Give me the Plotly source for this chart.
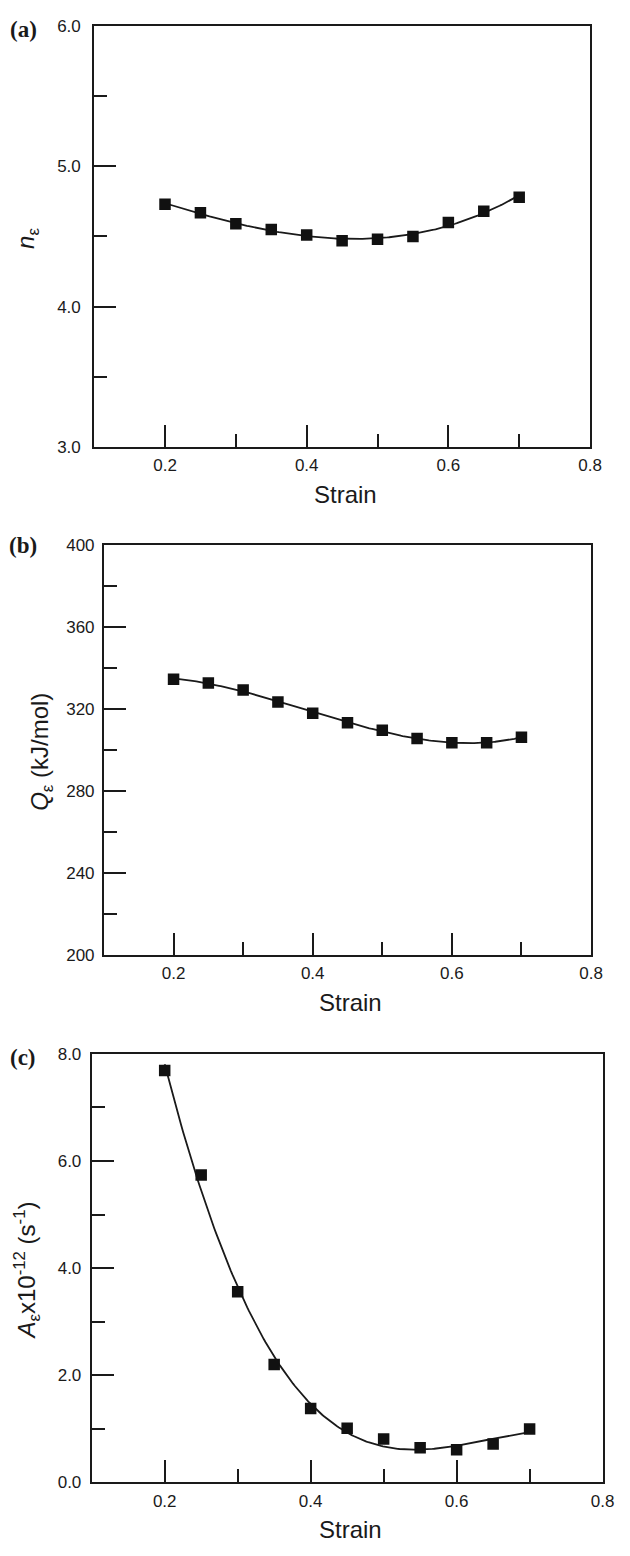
import numpy as np
import plotly.graph_objects as go

# ---------------- data ----------------
strain = [0.20, 0.25, 0.30, 0.35, 0.40, 0.45, 0.50, 0.55, 0.60, 0.65, 0.70]
n_eps = [4.73, 4.67, 4.59, 4.55, 4.51, 4.47, 4.48, 4.50, 4.60, 4.68, 4.78]
q_eps = [334.4, 332.5, 329.1, 323.3, 317.7, 313.1, 309.5, 305.4, 303.4, 303.4, 306.0]
a_eps = [7.69, 5.74, 3.56, 2.20, 1.38, 1.01, 0.81, 0.65, 0.61, 0.72, 1.00]

x_ticks = [0.2, 0.4, 0.6, 0.8]
x_ticktext = ["0.2", "0.4", "0.6", "0.8"]
x_minor = [0.3, 0.5, 0.7]

ya_ticks = [3, 4, 5, 6]
ya_text = ["3.0", "4.0", "5.0", "6.0"]
ya_minor = [3.5, 4.5, 5.5]

yb_ticks = [200, 240, 280, 320, 360, 400]
yb_text = ["200", "240", "280", "320", "360", "400"]
yb_minor = [220, 260, 300, 340, 380]

yc_ticks = [0, 2, 4, 6, 8]
yc_text = ["0.0", "2.0", "4.0", "6.0", "8.0"]
yc_minor = [1, 3, 5, 7]

panel_labels = ["(a)", "(b)", "(c)"]
y_titles = ["<i>n</i><sub>ε</sub>",
            "<i>Q</i><sub>ε</sub> (kJ/mol)",
            "<i>A</i><sub>ε</sub>x10<sup>-12</sup> (s<sup>-1</sup>)"]
x_title = "Strain"

# ---------------- layout geometry ----------------
W, H = 630, 1556
INK = "#1a1a1a"
SANS = "Liberation Sans, Arial, sans-serif"
SERIF = "Liberation Serif, Times New Roman, serif"

# (left, right, top, bottom) of each plot frame in pixels
frames = [(96, 601.5, 17.3, 443.3),
          (106, 602.5, 542.3, 957.3),
          (93.5, 614.3, 1057.7, 1491.7)]
label_standoff = [8, 4, 5]
ytitle_x = [28, 42, 28]
label_pos = [(24.3, 20.5), (23.3, 543.5), (23.3, 1061.5)]

series = [n_eps, q_eps, a_eps]
fit_deg = [3, 3, 3]
y_ranges = [[3, 6], [200, 400], [0, 8]]
y_tickvals = [ya_ticks, yb_ticks, yc_ticks]
y_ticktext = [ya_text, yb_text, yc_text]
y_minors = [ya_minor, yb_minor, yc_minor]

fig = go.Figure()
layout = dict(width=W, height=H, margin=dict(l=0, r=0, t=0, b=0, pad=0),
              paper_bgcolor="white", plot_bgcolor="white", showlegend=False,
              annotations=[])

xs = np.array(strain)
for i, (l, r, t, b) in enumerate(frames):
    k = "" if i == 0 else str(i + 1)
    xa, ya = "x" + k, "y" + k
    ys = np.array(series[i])
    coef = np.polyfit(xs, ys, fit_deg[i])
    xf = np.linspace(xs.min(), xs.max(), 200)
    yf = np.polyval(coef, xf)
    fig.add_trace(go.Scatter(x=xf, y=yf, mode="lines",
                             line=dict(color=INK, width=1.8),
                             xaxis=xa, yaxis=ya, hoverinfo="skip"))
    fig.add_trace(go.Scatter(x=strain, y=series[i], mode="markers",
                             marker=dict(symbol="square", size=11.5, color="#111111"),
                             xaxis=xa, yaxis=ya))
    common = dict(showline=True, mirror=True, linewidth=2, linecolor=INK,
                  ticks="inside", ticklen=22, tickwidth=1.6, tickcolor=INK,
                  showgrid=False, zeroline=False,
                  tickfont=dict(family=SANS, size=17, color=INK))
    layout["xaxis" + k] = dict(common, domain=[l / W, r / W], range=[0.1, 0.8],
                               anchor=ya, tickmode="array", tickvals=x_ticks,
                               ticktext=x_ticktext, ticklabelstandoff=2,
                               minor=dict(tickmode="array", tickvals=x_minor, ticks="inside",
                                          ticklen=13, tickwidth=1.6, tickcolor=INK))
    layout["yaxis" + k] = dict(common, domain=[1 - b / H, 1 - t / H], range=y_ranges[i],
                               anchor=xa, tickmode="array", tickvals=y_tickvals[i],
                               ticktext=y_ticktext[i], ticklabelstandoff=label_standoff[i],
                               minor=dict(tickmode="array", tickvals=y_minors[i], ticks="inside",
                                          ticklen=13, tickwidth=1.6, tickcolor=INK))
    # x title
    layout["annotations"].append(dict(text=x_title, xref="paper", yref="paper",
                                      x=((l + r) / 2 + 3) / W, y=1 - (b + 48) / H,
                                      xanchor="center", yanchor="middle", showarrow=False,
                                      font=dict(family=SANS, size=24, color=INK)))
    # y title
    layout["annotations"].append(dict(text=y_titles[i], xref="paper", yref="paper",
                                      x=ytitle_x[i] / W, y=1 - ((t + b) / 2 + 2) / H,
                                      xanchor="center", yanchor="middle", showarrow=False,
                                      textangle=-90,
                                      font=dict(family=SANS, size=24, color=INK)))
    # panel label
    px, py = label_pos[i]
    layout["annotations"].append(dict(text="<b>" + panel_labels[i] + "</b>", xref="paper",
                                      yref="paper", x=px / W, y=1 - py / H,
                                      xanchor="center", yanchor="middle", showarrow=False,
                                      font=dict(family=SERIF, size=23, color=INK)))

fig.update_layout(**layout)
fig.write_html("out.html")
